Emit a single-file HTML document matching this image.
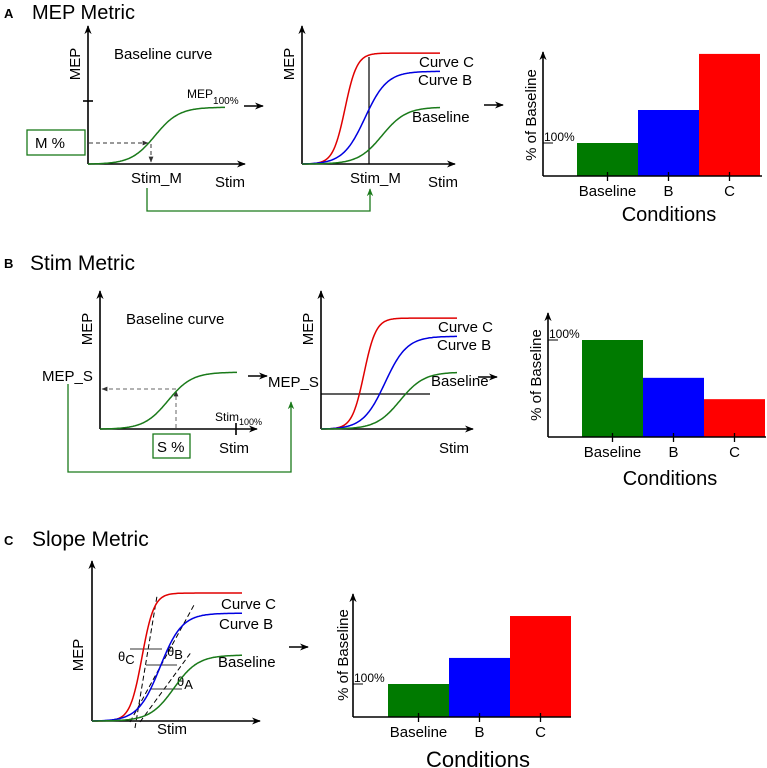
<!DOCTYPE html>
<html><head><meta charset="utf-8"><style>
body{margin:0;background:#fff}
svg{display:block;font-family:"Liberation Sans","DejaVu Sans",sans-serif}
</style></head><body>
<svg id="fig" width="767" height="768" viewBox="0 0 767 768">
<defs>
<marker id="ah" viewBox="0 0 10 10" refX="9" refY="5" markerWidth="9" markerHeight="9" orient="auto-start-reverse" markerUnits="userSpaceOnUse"><path d="M0,1 L10,5 L0,9 L3,5 Z" fill="#000"/></marker>
<marker id="ahg" viewBox="0 0 10 10" refX="9" refY="5" markerWidth="8" markerHeight="8" orient="auto" markerUnits="userSpaceOnUse"><path d="M0,1 L10,5 L0,9 L3,5 Z" fill="#1a7a1a"/></marker>
<marker id="ahs" viewBox="0 0 10 10" refX="9" refY="5" markerWidth="6" markerHeight="6" orient="auto" markerUnits="userSpaceOnUse"><path d="M0,1 L10,5 L0,9 Z" fill="#333"/></marker>
</defs>

<!-- Panel A -->
<g>
<text x="4" y="18" font-size="13" font-weight="bold">A</text>
<text x="32" y="19" font-size="20">MEP Metric</text>
<line x1="88" y1="164" x2="88" y2="26" stroke="#000" stroke-width="1.6" marker-end="url(#ah)"/>
<line x1="88" y1="164" x2="245" y2="164" stroke="#000" stroke-width="1.6" marker-end="url(#ah)"/>
<line x1="83" y1="101" x2="93" y2="101" stroke="#000" stroke-width="1.6"/>
<text transform="translate(80,64) rotate(-90)" font-size="15" text-anchor="middle">MEP</text>
<text x="114" y="59" font-size="15">Baseline curve</text>
<text x="187" y="98" font-size="12">MEP<tspan dy="6" font-size="10">100%</tspan></text>
<line x1="244" y1="106" x2="263" y2="106" stroke="#000" stroke-width="1.6" marker-end="url(#ah)"/>
<rect x="27" y="130" width="58" height="25" fill="none" stroke="#1a7a1a" stroke-width="1.3"/>
<text x="35" y="148" font-size="15">M %</text>
<line x1="89" y1="143" x2="148" y2="143" stroke="#333" stroke-dasharray="4,3" marker-end="url(#ahs)"/>
<line x1="151" y1="144" x2="151" y2="162" stroke="#333" stroke-dasharray="4,3" marker-end="url(#ahs)"/>
<text x="131" y="183" font-size="15">Stim_M</text>
<text x="215" y="187" font-size="15">Stim</text>
<polyline points="147,188 147,211 370,211 370,189" fill="none" stroke="#1a7a1a" stroke-width="1.3" marker-end="url(#ahg)"/>
<line x1="302" y1="164" x2="302" y2="26" stroke="#000" stroke-width="1.6" marker-end="url(#ah)"/>
<line x1="302" y1="164" x2="455" y2="164" stroke="#000" stroke-width="1.6" marker-end="url(#ah)"/>
<text transform="translate(294,64) rotate(-90)" font-size="15" text-anchor="middle">MEP</text>
<line x1="369" y1="57" x2="369" y2="164" stroke="#000" stroke-width="1.2"/>
<text x="419" y="67" font-size="15">Curve C</text>
<text x="418" y="85" font-size="15">Curve B</text>
<text x="412" y="122" font-size="15">Baseline</text>
<text x="350" y="183" font-size="15">Stim_M</text>
<text x="428" y="187" font-size="15">Stim</text>
<line x1="484" y1="105" x2="503" y2="105" stroke="#000" stroke-width="1.6" marker-end="url(#ah)"/>
<text x="669" y="221" font-size="20" text-anchor="middle">Conditions</text>
<text transform="translate(536,115) rotate(-90)" font-size="15" text-anchor="middle">% of Baseline</text>
</g>

<!-- Panel B -->
<g>
<text x="4" y="268" font-size="13" font-weight="bold">B</text>
<text x="30" y="270" font-size="21">Stim Metric</text>
<line x1="100" y1="429" x2="100" y2="291" stroke="#000" stroke-width="1.6" marker-end="url(#ah)"/>
<line x1="100" y1="429" x2="257" y2="429" stroke="#000" stroke-width="1.6" marker-end="url(#ah)"/>
<line x1="236" y1="423" x2="236" y2="435" stroke="#000" stroke-width="1.6"/>
<text transform="translate(92,329) rotate(-90)" font-size="15" text-anchor="middle">MEP</text>
<text x="126" y="324" font-size="15">Baseline curve</text>
<text x="215" y="421" font-size="12">Stim<tspan dy="4" font-size="9">100%</tspan></text>
<line x1="176" y1="389" x2="102" y2="389" stroke="#666" stroke-dasharray="4,3" marker-end="url(#ahs)"/>
<line x1="176" y1="428" x2="176" y2="391" stroke="#666" stroke-dasharray="4,3" marker-end="url(#ahs)"/>
<rect x="153" y="434" width="37" height="24" fill="none" stroke="#1a7a1a" stroke-width="1.3"/>
<text x="157" y="452" font-size="15">S %</text>
<text x="219" y="453" font-size="15">Stim</text>
<text x="42" y="381" font-size="15">MEP_S</text>
<polyline points="68,384 68,472 291,472 291,402" fill="none" stroke="#1a7a1a" stroke-width="1.3" marker-end="url(#ahg)"/>
<line x1="248" y1="376" x2="267" y2="376" stroke="#000" stroke-width="1.6" marker-end="url(#ah)"/>
<text x="268" y="387" font-size="15">MEP_S</text>
<line x1="321" y1="429" x2="321" y2="291" stroke="#000" stroke-width="1.6" marker-end="url(#ah)"/>
<line x1="321" y1="429" x2="473" y2="429" stroke="#000" stroke-width="1.6" marker-end="url(#ah)"/>
<text transform="translate(313,329) rotate(-90)" font-size="15" text-anchor="middle">MEP</text>
<line x1="321" y1="394" x2="430" y2="394" stroke="#000" stroke-width="1.2"/>
<text x="438" y="332" font-size="15">Curve C</text>
<text x="437" y="350" font-size="15">Curve B</text>
<text x="431" y="386" font-size="15">Baseline</text>
<text x="439" y="453" font-size="15">Stim</text>
<line x1="478" y1="377" x2="497" y2="377" stroke="#000" stroke-width="1.6" marker-end="url(#ah)"/>
<text x="670" y="485" font-size="20" text-anchor="middle">Conditions</text>
<text transform="translate(541,375) rotate(-90)" font-size="15" text-anchor="middle">% of Baseline</text>
</g>

<!-- Panel C -->
<g>
<text x="4" y="545" font-size="13" font-weight="bold">C</text>
<text x="32" y="546" font-size="21">Slope Metric</text>
<line x1="92" y1="721" x2="92" y2="561" stroke="#000" stroke-width="1.6" marker-end="url(#ah)"/>
<line x1="92" y1="721" x2="260" y2="721" stroke="#000" stroke-width="1.6" marker-end="url(#ah)"/>
<text transform="translate(83,655) rotate(-90)" font-size="15" text-anchor="middle">MEP</text>
<text x="157" y="734" font-size="15">Stim</text>
<text x="221" y="609" font-size="15">Curve C</text>
<text x="219" y="629" font-size="15">Curve B</text>
<text x="218" y="667" font-size="15">Baseline</text>
<line x1="135" y1="728" x2="157" y2="596" stroke="#000" stroke-dasharray="5,3"/>
<line x1="130" y1="722" x2="194" y2="605" stroke="#000" stroke-dasharray="5,3"/>
<line x1="140" y1="722" x2="192" y2="651" stroke="#000" stroke-dasharray="5,3"/>
<line x1="130" y1="649" x2="162" y2="649" stroke="#333" stroke-width="1"/>
<line x1="146" y1="665" x2="177" y2="665" stroke="#333" stroke-width="1"/>
<line x1="151" y1="689" x2="182" y2="689" stroke="#333" stroke-width="1"/>
<text x="118" y="661" font-size="13">θ<tspan dy="3">C</tspan></text>
<text x="167" y="656" font-size="13">θ<tspan dy="3">B</tspan></text>
<text x="177" y="686" font-size="13">θ<tspan dy="3">A</tspan></text>
<line x1="289" y1="647" x2="308" y2="647" stroke="#000" stroke-width="1.6" marker-end="url(#ah)"/>
<text x="478" y="767" font-size="22" text-anchor="middle">Conditions</text>
<text transform="translate(348,655) rotate(-90)" font-size="15" text-anchor="middle">% of Baseline</text>
</g>
<g id="dyn"></g>
</svg>
<script>
// Bar chart data (% of baseline)
const categories = ["Baseline", "B", "C"];
const mepMetricValues = [100, 200, 370];
const stimMetricValues = [100, 61, 39];
const slopeMetricValues = [100, 179, 306];
const barColors = ["#007a00", "#0000ff", "#ff0000"];
const refLabel = "100%";

const NS = "http://www.w3.org/2000/svg";
const dyn = document.getElementById("dyn");
function mk(tag, attrs) { const e = document.createElementNS(NS, tag); for (const k in attrs) e.setAttribute(k, attrs[k]); dyn.appendChild(e); return e; }

function barChart(prefix, values, ax) {
  const yScale = v => ax.y0 - v / 100 * ax.px100;
  const xScale = i => ax.barX0 + i * ax.barW;
  values.forEach((v, i) => {
    const r = mk("rect", { x: xScale(i), y: yScale(v), width: ax.barW, height: ax.y0 - yScale(v), fill: barColors[i] });
    
    
    const t = mk("line", { x1: xScale(i) + ax.barW / 2, y1: ax.y0 - 4, x2: xScale(i) + ax.barW / 2, y2: ax.y0 + 5, stroke: "#000", "stroke-width": 1.3 });
    
    
    const l = mk("text", { x: xScale(i) + ax.barW / 2, y: ax.y0 + 20, "font-size": 15, "text-anchor": "middle" });
    l.textContent = categories[i];
    
    
  });
  const ya = mk("line", { x1: ax.x0, y1: ax.y0, x2: ax.x0, y2: ax.top, stroke: "#000", "stroke-width": 1.6, "marker-end": "url(#ah)" });
  
  
  const xa = mk("line", { x1: ax.x0, y1: ax.y0, x2: ax.xEnd, y2: ax.y0, stroke: "#000", "stroke-width": 1.6 });
  
  
  const rt = mk("line", { x1: ax.x0, y1: yScale(100), x2: ax.x0 + 10, y2: yScale(100), stroke: "#000", "stroke-width": 1 });
  
  
  const rl = mk("text", { x: ax.x0 + 1, y: yScale(100) - 2, "font-size": 12 });
  rl.textContent = refLabel;
  
  
}
barChart("a", mepMetricValues, { x0: 543, y0: 176, top: 52, xEnd: 762, barX0: 577, barW: 61, px100: 33 });
barChart("b", stimMetricValues, { x0: 548, y0: 437, top: 313, xEnd: 766, barX0: 582, barW: 61, px100: 97 });
barChart("c", slopeMetricValues, { x0: 353, y0: 717, top: 594, xEnd: 571, barX0: 388, barW: 61, px100: 33 });

function sig(prefix, name, color, ox, oy, xEnd, plateau, xm, s) {
  const h = oy - plateau; let d = "";
  for (let x = ox; x <= xEnd; x += 1) {
    const y = oy - h / (1 + Math.exp(-(x - xm) / s)) + h / (1 + Math.exp((xm - ox) / s));
    d += (x === ox ? "M" : "L") + x + "," + y.toFixed(1);
  }
  const p = mk("path", { d: d, fill: "none", stroke: color, "stroke-width": 1.5 });
  
  
}
sig("a-left", "baseline-curve", "#1a7a1a", 88, 164, 225, 107, 155, 12);
sig("a-mid", "curve-c", "#e00000", 302, 164, 440, 53, 345, 6);
sig("a-mid", "curve-b", "#0000e0", 302, 164, 440, 71, 365, 11);
sig("a-mid", "baseline-curve", "#1a7a1a", 302, 164, 440, 107, 382, 12);
sig("b-left", "baseline-curve", "#1a7a1a", 100, 429, 237, 372, 168, 12);
sig("b-mid", "curve-c", "#e00000", 321, 429, 457, 318, 364, 6);
sig("b-mid", "curve-b", "#0000e0", 321, 429, 457, 336, 385, 11);
sig("b-mid", "baseline-curve", "#1a7a1a", 321, 429, 457, 372, 400, 12);
sig("c", "curve-c", "#e00000", 92, 721, 242, 593, 142, 6);
sig("c", "curve-b", "#0000e0", 92, 721, 242, 613, 160, 11);
sig("c", "baseline-curve", "#1a7a1a", 92, 721, 242, 655, 174, 12);
</script>
</body></html>
